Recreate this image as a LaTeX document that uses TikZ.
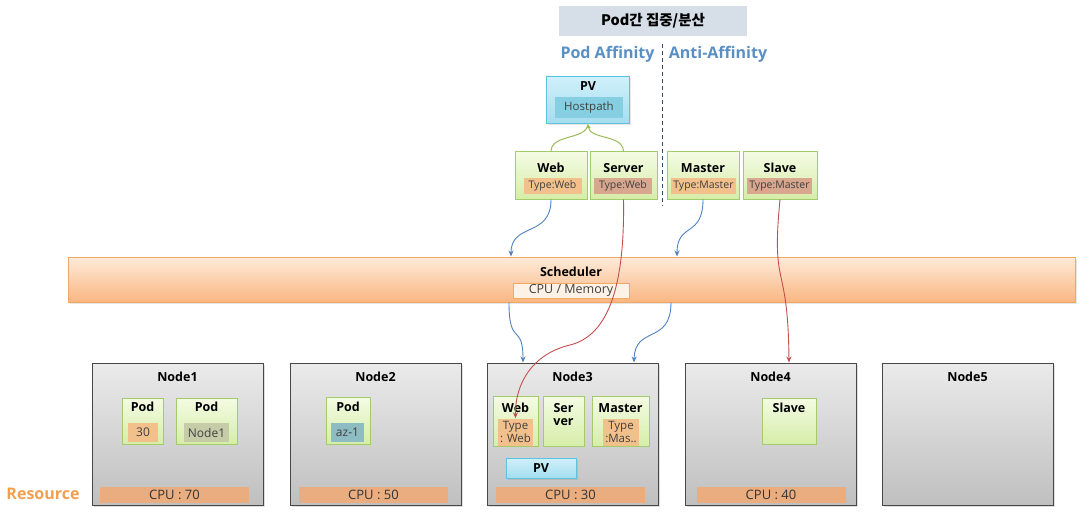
\documentclass[tikz,border=0pt]{standalone}
\usepackage{fontspec}
\setmainfont{Open Sans}
\newfontfamily\krfont{Noto Sans CJK KR}
\usetikzlibrary{arrows.meta,shadows}

\definecolor{podtop}{HTML}{F4FBE4}
\definecolor{podbot}{HTML}{D6EDA8}
\definecolor{podline}{HTML}{A2CB6A}
\definecolor{tagorange}{HTML}{F2C08A}
\definecolor{tagbrown}{HTML}{D9A68E}
\definecolor{taggray}{HTML}{C6CCA8}
\definecolor{tagteal}{HTML}{8DBDC2}
\definecolor{cpufill}{HTML}{E9AD80}
\definecolor{schedtop}{HTML}{FEEBDA}
\definecolor{schedbot}{HTML}{F9B682}
\definecolor{schedline}{HTML}{F0A862}
\definecolor{pvtop}{HTML}{CFF0FA}
\definecolor{pvbot}{HTML}{A4DDEF}
\definecolor{pvline}{HTML}{5EC3DE}
\definecolor{pvinner}{HTML}{86CFE3}
\definecolor{headfill}{HTML}{D6DEE8}
\definecolor{affblue}{HTML}{5A8FC4}
\definecolor{arrowblue}{HTML}{4F81BD}
\definecolor{arrowred}{HTML}{C0504D}
\definecolor{arcgreen}{HTML}{9BBB59}
\definecolor{resorange}{HTML}{F0A050}

\tikzset{
  nodebox/.style={draw=black!72, line width=1pt, top color=black!8, bottom color=black!25,
    minimum width=171pt, minimum height=142pt, inner sep=0pt,
    drop shadow={opacity=0.25, shadow xshift=2pt, shadow yshift=-2pt}},
  pod/.style={draw=podline, line width=1pt, top color=podtop, bottom color=podbot, inner sep=0pt},
  tag/.style={inner sep=0pt, text=black!75, font=\fontsize{10.5}{11}\selectfont},
  ttl/.style={inner sep=0pt, font=\fontsize{12.5}{14}\selectfont\bfseries},
  cpubar/.style={fill=cpufill, minimum width=149pt, minimum height=16pt, inner sep=0pt,
    text=black!80, font=\fontsize{13}{14}\selectfont},
  pvbox/.style={draw=pvline, line width=1pt, top color=pvtop, bottom color=pvbot, inner sep=0pt,
    drop shadow={opacity=0.2, shadow xshift=1.5pt, shadow yshift=-1.5pt}},
  blueconn/.style={draw=arrowblue, line width=0.9pt, -{Stealth[length=6pt,width=5pt]}},
  redconn/.style={draw=arrowred, line width=0.9pt, -{Stealth[length=6pt,width=5pt]}},
  greenconn/.style={draw=arcgreen, line width=1pt},
}

\begin{document}
\begin{tikzpicture}[x=1pt,y=-1pt]
\useasboundingbox (0,0) rectangle (1087,532);

% heading
\node[fill=headfill, minimum width=188pt, minimum height=30pt, inner sep=0pt,
  font=\krfont\fontsize{14.5}{16}\selectfont\bfseries] (head) at (653,21) {Pod간 집중/분산};
\node[text=affblue, font=\fontsize{16}{18}\selectfont\bfseries] (podaff) at (607.5,54) {Pod Affinity};
\node[text=affblue, font=\fontsize{16}{18}\selectfont\bfseries] (antiaff) at (718,54) {Anti-Affinity};
\coordinate (divtop) at (662,44);
\coordinate (divbot) at (662,206);
\draw[black!45!affblue, line width=1pt, dash pattern=on 4pt off 3pt] (divtop) -- (divbot);

% PV
\node[pvbox, minimum width=83pt, minimum height=47pt] (pv) at (588,100.5) {};
\node[ttl] (pvtitle) at (588,86) {PV};
\node[fill=pvinner, minimum width=68pt, minimum height=21pt, inner sep=0pt, text=black!75,
  font=\fontsize{11.5}{12}\selectfont] (hostpath) at (589,107.5) {Hostpath};

% pods on top
\node[pod, minimum width=72pt, minimum height=47pt] (web) at (551,175.5) {};
\node[ttl] at (551,168) {Web};
\node[tag, fill=tagorange, minimum width=58pt, minimum height=16pt] (webtag) at (552.5,186) {Type:Web};
\node[pod, minimum width=67pt, minimum height=47pt] (server) at (623.5,175.5) {};
\node[ttl] at (623.5,168) {Server};
\node[tag, fill=tagbrown, minimum width=58pt, minimum height=16pt] (servertag) at (623,186) {Type:Web};
\node[pod, minimum width=72pt, minimum height=47pt] (master) at (703,175.5) {};
\node[ttl] at (703,168) {Master};
\node[tag, fill=tagorange, minimum width=65pt, minimum height=16pt] (mastertag) at (703.5,186) {Type:Master};
\node[pod, minimum width=74pt, minimum height=47pt] (slave) at (780,175.5) {};
\node[ttl] at (780,168) {Slave};
\node[tag, fill=tagbrown, minimum width=65pt, minimum height=16pt] (slavetag) at (779.5,186) {Type:Master};

% scheduler
\node[draw=schedline, line width=1pt, top color=schedtop, bottom color=schedbot,
  minimum width=1007pt, minimum height=45pt, inner sep=0pt,
  drop shadow={opacity=0.2, shadow xshift=1.5pt, shadow yshift=-1.5pt}] (sched) at (571.5,279.5) {};
\node[ttl, font=\fontsize{12.5}{14}\selectfont\bfseries] (schedtitle) at (571,272) {Scheduler};
\node[draw=schedline, fill=schedtop!70!white, minimum width=116pt, minimum height=15pt, inner sep=0pt,
  text=black!75, font=\fontsize{12.5}{13}\selectfont] (cpumem) at (571,290.5) {CPU / Memory};

% worker nodes
\foreach \i/\x in {1/177.5,2/375.5,3/572.5,4/770.5,5/967.5}{
  \node[nodebox] (node\i) at (\x,434) {};
  \node[ttl] (title\i) at (\x,377) {Node\i};
}
\foreach \i/\x/\v in {1/174.5/70,2/373.5/50,3/570.5/30,4/771/40}
  \node[cpubar] (cpu\i) at (\x,494.5) {CPU : \v};

\node[text=resorange, font=\fontsize{16}{18}\selectfont\bfseries] (resource) at (43,494) {Resource};

% node1 / node2 pods
\node[pod, minimum width=41pt, minimum height=46pt] (n1pod) at (142.5,421) {};
\node[ttl] at (142.5,407) {Pod};
\node[tag, fill=tagorange, minimum width=30pt, minimum height=19pt, font=\fontsize{12}{13}\selectfont] at (143,432.5) {30};
\node[pod, minimum width=61pt, minimum height=46pt] (n1podb) at (206.5,421) {};
\node[ttl] at (206.5,407) {Pod};
\node[tag, fill=taggray, minimum width=45pt, minimum height=19pt, font=\fontsize{12}{13}\selectfont] at (206.5,432.5) {Node1};
\node[pod, minimum width=44pt, minimum height=47pt] (n2pod) at (348,421) {};
\node[ttl] at (348,407) {Pod};
\node[tag, fill=tagteal, minimum width=33pt, minimum height=19pt, font=\fontsize{12}{13}\selectfont] at (347.5,432.5) {az-1};

% node3 pods
\node[pod, minimum width=45pt, minimum height=50pt] (n3web) at (515.5,421.5) {};
\node[ttl] at (515.5,408) {Web};
\node[tag, fill=tagorange, minimum width=35pt, minimum height=27pt, align=center,
  font=\fontsize{11.5}{13.5}\selectfont] (n3webtag) at (515.5,432) {Type\\: Web};
\node[pod, minimum width=41pt, minimum height=50pt] (n3server) at (563.5,421.5) {};
\node[ttl, align=center, font=\fontsize{12.5}{13}\selectfont\bfseries] at (563.5,415) {Ser\\ver};
\node[pod, minimum width=57pt, minimum height=50pt] (n3master) at (620.5,421.5) {};
\node[ttl] at (620.5,408) {Master};
\node[tag, fill=tagorange, minimum width=36pt, minimum height=27pt, align=center,
  font=\fontsize{11.5}{13.5}\selectfont] (n3mastertag) at (621,432) {Type\\:Mas..};
\node[pvbox, minimum width=70pt, minimum height=20pt, font=\fontsize{12.5}{14}\selectfont\bfseries] (n3pv) at (541,468) {PV};

% node4 pod
\node[pod, minimum width=54pt, minimum height=46pt] (n4slave) at (789,421) {};
\node[ttl] at (789,408) {Slave};

% connectors
\draw[greenconn] (web.north) .. controls (551,134) and (586,140) .. (pv.south);
\draw[greenconn, -{Stealth[length=4pt,width=5pt]}] (server.north) .. controls (623,134) and (590,140) .. (pv.south);
\draw[blueconn] (web.south) .. controls (551,238) and (511,222) .. (511,0 |- sched.north);
\draw[blueconn] (master.south) .. controls (703,238) and (677,222) .. (677,0 |- sched.north);
\draw[blueconn] (509,0 |- sched.south) .. controls (509,348) and (523,322) .. (523,0 |- node3.north);
\draw[blueconn] (671,0 |- sched.south) .. controls (671,345) and (635,325) .. (634,0 |- node3.north);
\draw[redconn] (server.south) .. controls (625,292) and (606,336) .. (570,345)
  .. controls (532,354) and (515,384) .. (n3webtag.north);
\draw[redconn] (slave.south) .. controls (771,292) and (788,258) .. (789,0 |- node4.north);
\end{tikzpicture}
\end{document}
